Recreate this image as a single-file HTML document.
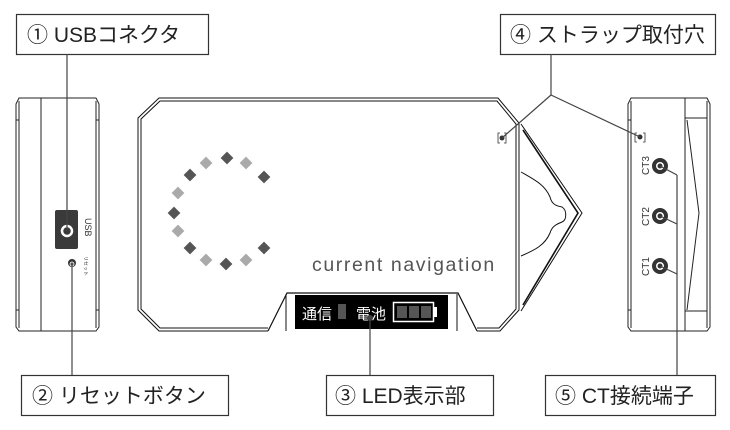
<!DOCTYPE html>
<html><head><meta charset="utf-8"><style>
html,body{margin:0;padding:0;background:#fff;}
svg{display:block;}
text{font-family:"Liberation Sans","Noto Sans CJK JP",sans-serif;}
</style></head><body>
<svg width="730" height="430" viewBox="0 0 730 430" xmlns="http://www.w3.org/2000/svg">
<g fill="#fff" stroke="#333" stroke-width="1.2">
<rect x="16.5" y="14.5" width="192" height="40"/>
<rect x="500.5" y="14.5" width="215" height="40"/>
<rect x="21.5" y="375.5" width="207" height="40"/>
<rect x="326.5" y="375.5" width="167" height="40"/>
<rect x="545.5" y="375.5" width="170" height="40"/>
</g>
<g font-size="21" fill="#222">
<text x="27" y="42">① USBコネクタ</text>
<text x="510" y="42">④ ストラップ取付穴</text>
<text x="32" y="403">② リセットボタン</text>
<text x="335" y="403">③ LED表示部</text>
<text x="555" y="403">⑤ CT接続端子</text>
</g>

<!-- Left side view -->
<g fill="none" stroke="#222" stroke-width="1">
<path d="M19,98 L96,98 L99,104 L99,327 L96,331 L19,331 L16,327 L16,104 Z"/>
<line x1="19" y1="101" x2="19" y2="328"/>
<line x1="96" y1="101" x2="96" y2="328"/>
<line x1="41" y1="98" x2="41" y2="331"/>
<line x1="16" y1="120" x2="19" y2="120"/><line x1="96" y1="120" x2="99" y2="120"/>
<line x1="16" y1="310" x2="19" y2="310"/><line x1="96" y1="310" x2="99" y2="310"/>
</g>
<rect x="55" y="210" width="23" height="39" rx="2" fill="#3a3a3a"/>
<circle cx="67" cy="231" r="5" fill="#3a3a3a" stroke="#fff" stroke-width="2.5"/>
<text x="85" y="218" font-size="9" fill="#333" transform="rotate(90 85 218)">USB</text>
<text x="84" y="256" font-size="5" fill="#333" transform="rotate(90 84 256)">リセット</text>
<circle cx="72" cy="263" r="4" fill="#333"/>
<circle cx="72" cy="264" r="2" fill="#555" stroke="#fff" stroke-width="0.8"/>

<!-- Main body -->
<g fill="none" stroke="#111" stroke-width="1">
<path d="M268,331 L159,331 L138,310 L138,118 L159,98 L498,98 L519,123 L519,310 L500,331 L477,331"/>
<path d="M268,328 L160,328 L141,309 L141,119 L160,101 L497,101 L516,124 L516,309 L499,328 L477,328"/>
<path d="M521,124 L582,213 L521,311"/>
<path d="M523,130 L578,213 L523,305" stroke-width="1.6"/>
<path d="M521,172 C535,180 545,185 550,197 C552,205 557,206 562,207 C567,210 567,220 562,222 C557,224 552,226 550,233 C545,245 535,250 521,256"/>
</g>
<circle cx="502" cy="138" r="2.5" fill="#333"/>
<path d="M500,133 L498,133 L498,143 L500,143 M504,133 L506,133 L506,143 L504,143" fill="none" stroke="#333" stroke-width="0.8"/>

<g>
<rect x="-4.5" y="-4.5" width="9" height="9" transform="translate(227,158) rotate(45)" fill="#555"/>
<rect x="-4.5" y="-4.5" width="9" height="9" transform="translate(206,163) rotate(45)" fill="#aaa"/>
<rect x="-4.5" y="-4.5" width="9" height="9" transform="translate(246,163) rotate(45)" fill="#aaa"/>
<rect x="-4.5" y="-4.5" width="9" height="9" transform="translate(190,175) rotate(45)" fill="#555"/>
<rect x="-4.5" y="-4.5" width="9" height="9" transform="translate(264,177) rotate(45)" fill="#555"/>
<rect x="-4.5" y="-4.5" width="9" height="9" transform="translate(178,193) rotate(45)" fill="#aaa"/>
<rect x="-4.5" y="-4.5" width="9" height="9" transform="translate(174,213) rotate(45)" fill="#555"/>
<rect x="-4.5" y="-4.5" width="9" height="9" transform="translate(178,231) rotate(45)" fill="#aaa"/>
<rect x="-4.5" y="-4.5" width="9" height="9" transform="translate(190,248) rotate(45)" fill="#555"/>
<rect x="-4.5" y="-4.5" width="9" height="9" transform="translate(206,260) rotate(45)" fill="#aaa"/>
<rect x="-4.5" y="-4.5" width="9" height="9" transform="translate(226,264) rotate(45)" fill="#555"/>
<rect x="-4.5" y="-4.5" width="9" height="9" transform="translate(246,260) rotate(45)" fill="#aaa"/>
<rect x="-4.5" y="-4.5" width="9" height="9" transform="translate(264,248) rotate(45)" fill="#555"/>
</g>
<text x="312" y="271" font-size="19.5" fill="#555" letter-spacing="1.6">current navigation</text>

<!-- LED panel -->
<path d="M268,331 L287,293 L458,293 L477,331" fill="#fff" stroke="#111" stroke-width="1.2"/>
<line x1="286" y1="294" x2="286" y2="331" stroke="#111"/>
<line x1="457" y1="294" x2="457" y2="331" stroke="#111"/>
<rect x="295" y="295" width="153" height="34" fill="#000"/>
<text x="302" y="319" font-size="15" fill="#fff">通信</text>
<rect x="338" y="304" width="8" height="15" fill="#555"/>
<text x="356" y="319" font-size="15" fill="#fff">電池</text>
<rect x="393.5" y="302.5" width="40" height="19" fill="none" stroke="#fff" stroke-width="1.5"/>
<rect x="434" y="307" width="3" height="10" fill="#fff"/>
<rect x="397" y="306" width="10" height="12" fill="#555"/>
<rect x="409" y="306" width="10" height="12" fill="#555"/>
<rect x="421" y="306" width="10" height="12" fill="#555"/>

<!-- Right side view -->
<g fill="none" stroke="#222" stroke-width="1">
<path d="M631,98 L707,98 L710,104 L710,327 L707,331 L631,331 L628,327 L628,104 Z"/>
<line x1="631" y1="101" x2="631" y2="328"/>
<line x1="707" y1="101" x2="707" y2="328"/>
<line x1="685" y1="98" x2="685" y2="331"/>
<line x1="685" y1="118" x2="707" y2="118"/>
<line x1="685" y1="311" x2="707" y2="311"/>
<path d="M687,120 L699,213 L687,310"/>
<line x1="628" y1="120" x2="631" y2="120"/>
<line x1="628" y1="310" x2="631" y2="310"/>
</g>
<circle cx="640" cy="137" r="2.5" fill="#333"/>
<path d="M637,133 L635,133 L635,142 L637,142 M643,133 L645,133 L645,142 L643,142" fill="none" stroke="#333" stroke-width="0.8"/>
<g font-size="10" fill="#333">
<text x="649" y="175" transform="rotate(-90 649 175)">CT3</text>
<text x="649" y="226" transform="rotate(-90 649 226)">CT2</text>
<text x="649" y="276" transform="rotate(-90 649 276)">CT1</text>
</g>
<g fill="#fff" stroke="#333" stroke-width="4">
<circle cx="660" cy="166" r="6"/>
<circle cx="660" cy="216" r="6"/>
<circle cx="660" cy="266" r="6"/>
</g>
<g fill="#333">
<circle cx="660" cy="166" r="2.5"/>
<circle cx="660" cy="216" r="2.5"/>
<circle cx="660" cy="266" r="2.5"/>
</g>

<g stroke="#444" stroke-width="1.2" fill="none">
<line x1="67" y1="54" x2="67" y2="231"/>
<line x1="72" y1="264" x2="72" y2="375"/>
<line x1="551" y1="54" x2="551" y2="95"/>
<line x1="551" y1="95" x2="502" y2="138"/>
<line x1="551" y1="95" x2="640" y2="137"/>
<line x1="370" y1="318" x2="370" y2="375"/>
<line x1="677" y1="175" x2="677" y2="375"/>
<line x1="660" y1="166" x2="677" y2="175"/>
<line x1="660" y1="216" x2="677" y2="224"/>
<line x1="660" y1="266" x2="677" y2="274"/>
</g>
<circle cx="370" cy="318" r="3" fill="#444"/>
</svg>
</body></html>
